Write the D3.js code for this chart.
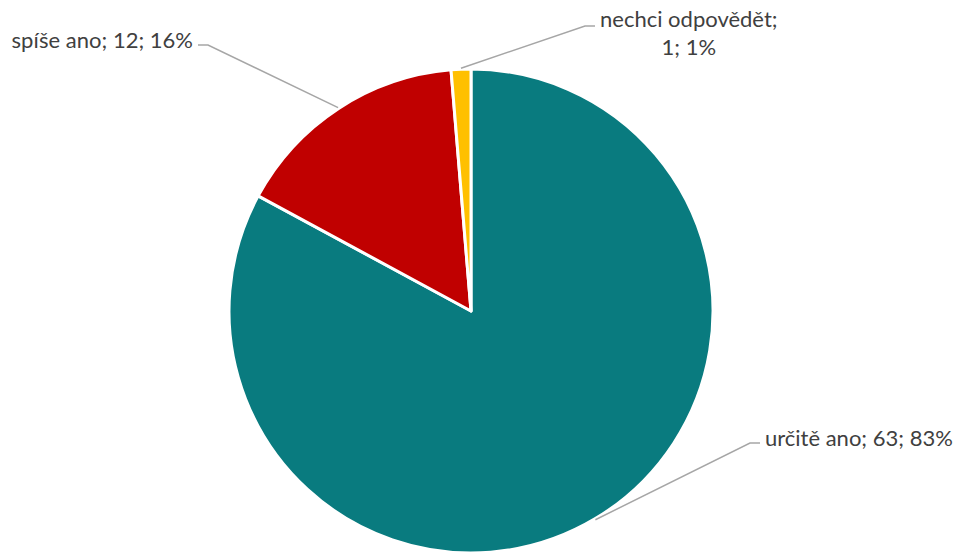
<!DOCTYPE html>
<html>
<head>
<meta charset="utf-8">
<script src="https://cdn.jsdelivr.net/npm/d3@7"></script>
<style>
  html, body { margin: 0; padding: 0; background: #fff; }
  svg { display: block; }
  text { font-family: Lato, "Open Sans", sans-serif; fill: #404040; }
</style>
</head>
<body>
<svg id="chart" width="958" height="552"></svg>
<script>
const categories = ["určitě ano", "spíše ano", "nechci odpovědět"];
const counts = [63, 12, 1];
const percents = ["83%", "16%", "1%"];
const colors = ["#097b7f", "#c00000", "#ffc000"];

const W = 958, H = 552;
const cx = 471, cy = 311, R = 242;
const svg = d3.select("#chart");

const data = categories.map((c, i) => ({ cat: c, value: counts[i], pct: percents[i], color: colors[i] }));

const pie = d3.pie().value(d => d.value).sort(null).startAngle(0).endAngle(2 * Math.PI);
const arcs = pie(data);
const arc = d3.arc().innerRadius(0).outerRadius(R);

const g = svg.append("g").attr("transform", `translate(${cx},${cy})`);
g.selectAll("path.slice").data(arcs).enter().append("path")
  .attr("class", "slice")
  .attr("d", arc)
  .attr("fill", d => d.data.color)
  .attr("stroke", "#fff")
  .attr("stroke-width", 3)
  .attr("stroke-linejoin", "round");

const FS = 22;
// label layout: elbow offsets relative to pie center, horizontal segment direction
const layout = [
  { elbow: [279, 132], dir: 1, lines: d => [`${d.data.cat}; ${d.data.value}; ${d.data.pct}`], anchor: "start" },
  { elbow: [-263, -266], dir: -1, lines: d => [`${d.data.cat}; ${d.data.value}; ${d.data.pct}`], anchor: "end" },
  { elbow: [114, -285], dir: 1, lines: d => [`${d.data.cat};`, `${d.data.value}; ${d.data.pct}`], anchor: "middle" }
];

arcs.forEach((a, i) => {
  const L = layout[i];
  const mid = (a.startAngle + a.endAngle) / 2;
  const sx = (R + 1) * Math.sin(mid), sy = -(R + 1) * Math.cos(mid);
  const ex = L.elbow[0], ey = L.elbow[1];
  const hx = ex + L.dir * 10;
  g.append("polyline")
    .attr("points", `${sx},${sy} ${ex},${ey} ${hx},${ey}`)
    .attr("fill", "none")
    .attr("stroke", "#a6a6a6")
    .attr("stroke-width", 1.5);
  const lines = L.lines(a);
  const t = g.append("text").attr("font-size", FS);
  if (L.anchor === "middle") {
    const t0 = g.append("text").attr("font-size", FS).attr("x", hx + 5).attr("y", ey + 1).text(lines[0]);
    const w = t0.node().getComputedTextLength();
    t0.remove();
    const tx = hx + 5 + w / 2;
    lines.forEach((s, k) => {
      t.append("tspan").attr("x", tx).attr("y", ey + 1 + k * 28).attr("text-anchor", "middle").text(s);
    });
  } else {
    const tx = hx + L.dir * 5;
    t.attr("x", tx).attr("y", ey + 3).attr("text-anchor", L.anchor).text(lines[0]);
  }
});
</script>
</body>
</html>
